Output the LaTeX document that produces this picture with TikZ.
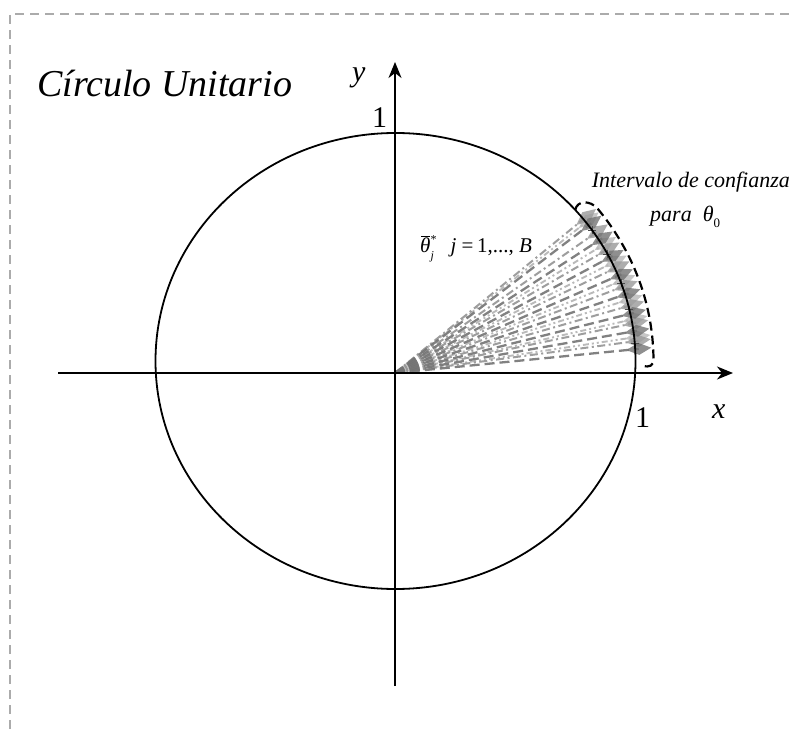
\documentclass[tikz,border=0pt]{standalone}
\usepackage{fontspec}
\setmainfont{Liberation Serif}
\usetikzlibrary{shapes.geometric}
\usetikzlibrary{arrows.meta}
\begin{document}
\begin{tikzpicture}[x=1pt,y=1pt,
  frame/.style={draw=black!33, line width=1.4pt, dash pattern=on 9pt off 6pt},
  axis/.style={draw=black, line width=1.8pt, -{Stealth[length=16pt,width=13pt,inset=5pt]}},
  unitcirc/.style={draw=black, line width=1.8pt},
  bracket/.style={draw=black, line width=2.2pt, dash pattern=on 9pt off 5pt},
  lbl/.style={inner sep=0pt, anchor=base west, font=\fontsize{30}{30}\selectfont},
  txt/.style={inner sep=0pt, font=\fontsize{22}{22}\selectfont\itshape},
  dia/.style={diamond, draw=none, fill=#1, fill opacity=0.8, inner sep=0pt,
              minimum width=26pt, minimum height=13pt, aspect=2},
  rlong/.style={draw=black!55, line width=2.3pt, dash pattern=on 10pt off 5pt, draw opacity=0.9},
  rdot/.style={draw=black!42, line width=2pt, dash pattern=on 8pt off 3.5pt on 2pt off 3.5pt, draw opacity=0.9},
  rdd/.style={draw=black!30, line width=1.9pt, dash pattern=on 6pt off 3pt on 2pt off 3pt on 2pt off 3pt, draw opacity=0.9},
  plus/.style={draw=black!70, line width=0.6pt}
]
\useasboundingbox (0,0) rectangle (794,729);
% frame
\coordinate (f1) at (10,0);
\coordinate (f2) at (10,715);
\coordinate (f3) at (794,715);
\draw[frame] (f1) -- (f2) -- (f3);
% centre and axes
\coordinate (C) at (395.5,368);
\coordinate (A) at (395,356);
\coordinate (xl) at (58,356);
\coordinate (xr) at (733,356);
\coordinate (yb) at (395,43);
\coordinate (yt) at (395,667);
% points on the circle
\begin{scope}[shift={(C)}, x=240pt, y=228pt]
  \foreach \a [count=\i] in {36.5,32,27,22,17,12,7.5,3}
    {\coordinate (L\i) at (\a:1.015);}
  \foreach \a [count=\i] in {38.5,34,29,24,19,14,9.5,5}
    {\coordinate (D\i) at (\a:1.015);}
  \foreach \a [count=\i] in {37.5,30.5,25.5,20.5,15.5,10.5,6}
    {\coordinate (E\i) at (\a:1.015);}
  \foreach \a [count=\i] in {35,28,20,13,4.5}
    {\coordinate (P\i) at (\a:1.0);}
\end{scope}
% rays with diamond ends
\foreach \i in {1,...,7} {\draw[rdd] (A) -- (E\i) node[pos=1, sloped, dia=black!28] (e\i) {};}
\foreach \i in {1,...,8} {\draw[rdot] (A) -- (D\i) node[pos=1, sloped, dia=black!40] (d\i) {};}
\foreach \i in {1,...,8} {\draw[rlong] (A) -- (L\i) node[pos=1, sloped, dia=black!55] (l\i) {};}
\foreach \i in {1,...,5} {\draw[plus] ([xshift=-4pt]P\i) -- ([xshift=4pt]P\i) ([yshift=-4pt]P\i) -- ([yshift=4pt]P\i);}
% circle and axes
\draw[unitcirc] (C) ellipse[x radius=240, y radius=228];
\draw[axis] (xl) -- (xr);
\draw[axis] (yb) -- (yt);
% confidence bracket
\begin{scope}[shift={(C)}, x=240pt, y=228pt]
  \draw[bracket] (41.5:1.0) .. controls (43:1.035) and (41:1.075) .. (38.5:1.075)
    -- plot[domain=38.5:0.5, samples=40] ({1.075*cos(\x)},{1.075*sin(\x)})
    .. controls (-1.2:1.075) and (-1.5:1.06) .. (-1.2:1.03);
\end{scope}
% labels
\node[inner sep=0pt, anchor=base west, font=\fontsize{38}{38}\selectfont\itshape] (title) at (37,632) {Círculo Unitario};
\node[lbl, font=\fontsize{30}{30}\selectfont\itshape] (ylab) at (352,647) {y};
\node[lbl, font=\fontsize{30}{30}\selectfont\itshape] (xlab) at (712,311) {x};
\node[lbl] (one1) at (372,601) {1};
\node[lbl] (one2) at (635,302) {1};
\node[txt, anchor=base east] (int1) at (790,541) {Intervalo de confianza};
\node[txt, anchor=base west] (int2) at (650,507) {para\ \ θ\raisebox{-0.25em}{\fontsize{13}{13}\selectfont\upshape 0}};
\node[inner sep=0pt, anchor=base west, font=\fontsize{21}{21}\selectfont] (theta) at (420,476)
  {\itshape θ\llap{\raisebox{0.78em}{\rule{0.42em}{0.05em}}\hspace{0.03em}}\rlap{\raisebox{0.45em}{\fontsize{12}{12}\selectfont\upshape *}}\raisebox{-0.3em}{\fontsize{12}{12}\selectfont j}\hspace{0.8em}j\upshape\ =\,1,...,\ \itshape B};
\end{tikzpicture}
\end{document}
